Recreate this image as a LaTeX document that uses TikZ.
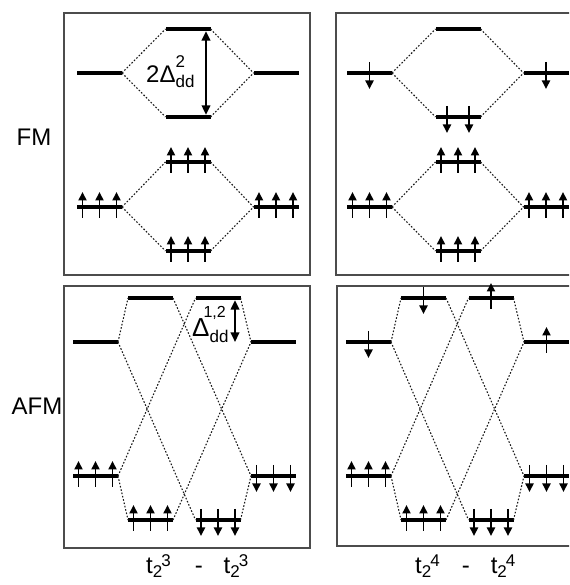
\documentclass[tikz,border=0pt]{standalone}
\usepackage{fontspec}
\setmainfont{Liberation Sans}
\usetikzlibrary{arrows.meta}

\tikzset{
  lvl/.style={rectangle, fill=black, minimum width=45pt, minimum height=4.4pt, inner sep=0pt, outer sep=0pt},
  panel/.style={draw=black!70, line width=1.2pt},
  link/.style={draw=black!90, line width=1.1pt, dash pattern=on 1.6pt off 1.8pt},
  spin/.style={line width=1.9pt, -{Triangle[width=8pt,length=8.5pt]}},
  splitarrow/.style={line width=2.2pt, {Triangle[width=8.5pt,length=9.5pt]}-{Triangle[width=8.5pt,length=9.5pt]}},
  lab/.style={font=\fontsize{24}{24}\selectfont, inner sep=0pt},
}

% spin arrows on a level node: #1 node, #2 horizontal offset
\newcommand\spup[2]{\draw[spin] ([xshift=#2,yshift=-11pt]#1.center) -- ++(0,26pt);}
\newcommand\spdn[2]{\draw[spin] ([xshift=#2,yshift=11pt]#1.center) -- ++(0,-27pt);}
\newcommand\triup[1]{\spup{#1}{-17pt}\spup{#1}{0pt}\spup{#1}{17pt}}
\newcommand\tridn[1]{\spdn{#1}{-17pt}\spdn{#1}{0pt}\spdn{#1}{17pt}}
\newcommand\scr[1]{{\fontsize{17}{17}\selectfont #1}}
% t_2^n with the exponent set just after the index
\newcommand\ttwo[1]{t\raisebox{-4pt}{\scr{2}}\kern-1pt\raisebox{7pt}{\scr{#1}}}

\begin{document}
\begin{tikzpicture}[x=1pt,y=1pt]
\useasboundingbox (0,0) rectangle (569,585);
\clip (0,0) rectangle (569,585);

% ---------- panel frames ----------
\draw[panel] (64,572) rectangle (310,310);
\draw[panel] (336,572) rectangle (600,310);
\draw[panel] (64,299) rectangle (310,37);
\draw[panel] (337,299) rectangle (600,39);

% ---------- row labels ----------
\node[lab] (fm)  at (34,447.5) {FM};
\node[lab] (afm) at (37,178.5) {AFM};

% ---------- FM, t2^3 - t2^3 ----------
\node[lvl] (a1l) at (99.5,512) {};
\node[lvl] (a1t) at (188,556) {};
\node[lvl] (a1b) at (188,468) {};
\node[lvl] (a1r) at (276,512) {};
\node[lvl] (a2l) at (99.5,378) {};
\node[lvl] (a2t) at (188,423) {};
\node[lvl] (a2b) at (188,334) {};
\node[lvl] (a2r) at (276,378) {};
\foreach \p in {a1,a2}{
  \draw[link] (\p l.east) -- (\p t.west);
  \draw[link] (\p l.east) -- (\p b.west);
  \draw[link] (\p t.east) -- (\p r.west);
  \draw[link] (\p b.east) -- (\p r.west);
}
\triup{a2l}\triup{a2t}\triup{a2b}\triup{a2r}
\draw[splitarrow] ([xshift=18pt]a1t.south) -- ([xshift=18pt]a1b.north);
\node[anchor=base west, inner sep=0pt] (gapfm) at (146,502)
  {\fontsize{24}{24}\selectfont 2Δ\rlap{\raisebox{-5pt}{\scr{dd}}}\raisebox{15pt}{\scr{2}}};

% ---------- FM, t2^4 - t2^4 ----------
\node[lvl] (b1l) at (369.5,512) {};
\node[lvl] (b1t) at (458,556) {};
\node[lvl] (b1b) at (458,468) {};
\node[lvl] (b1r) at (546,512) {};
\node[lvl] (b2l) at (369.5,378) {};
\node[lvl] (b2t) at (458,423) {};
\node[lvl] (b2b) at (458,334) {};
\node[lvl] (b2r) at (546,378) {};
\foreach \p in {b1,b2}{
  \draw[link] (\p l.east) -- (\p t.west);
  \draw[link] (\p l.east) -- (\p b.west);
  \draw[link] (\p t.east) -- (\p r.west);
  \draw[link] (\p b.east) -- (\p r.west);
}
\spdn{b1l}{0pt}\spdn{b1r}{0pt}\spdn{b1b}{-11pt}\spdn{b1b}{11pt}
\triup{b2l}\triup{b2t}\triup{b2b}\triup{b2r}

% ---------- AFM panels (prefix / horizontal shift) ----------
\foreach \p/\dx in {c/0, d/273}{
  \node[lvl] (\p l)  at (95.5+\dx,243) {};
  \node[lvl] (\p ll) at (95.5+\dx,109) {};
  \node[lvl] (\p at) at (150.5+\dx,287) {};
  \node[lvl] (\p bt) at (218+\dx,287) {};
  \node[lvl] (\p al) at (150.5+\dx,65) {};
  \node[lvl] (\p bl) at (218+\dx,65) {};
  \node[lvl] (\p r)  at (273.5+\dx,243) {};
  \node[lvl] (\p rl) at (273.5+\dx,109) {};
  \draw[link] (\p l.east) -- (\p at.west);
  \draw[link] (\p l.east) -- (\p bl.west);
  \draw[link] (\p ll.east) -- (\p al.west);
  \draw[link] (\p ll.east) -- (\p bt.west);
  \draw[link] (\p at.east) -- (\p rl.west);
  \draw[link] (\p bt.east) -- (\p r.west);
  \draw[link] (\p al.east) -- (\p r.west);
  \draw[link] (\p bl.east) -- (\p rl.west);
  \triup{\p ll}\triup{\p al}\tridn{\p bl}\tridn{\p rl}
}
\spdn{dl}{0pt}\spdn{dat}{0pt}\spup{dbt}{0pt}\spup{dr}{0pt}

\draw[splitarrow] ([xshift=17pt]cbt.south) -- ([xshift=17pt]cbt.south |- cr.center);
\node[anchor=base west, inner sep=0pt] (gapafm) at (192,248)
  {\fontsize{26}{26}\selectfont Δ\rlap{\raisebox{-6pt}{\scr{dd}}}\kern-6pt\raisebox{19pt}{{\fontsize{16}{16}\selectfont 1,2}}};

% ---------- configuration labels ----------
\node[anchor=base west, inner sep=0pt] (cfg3) at (146,12)
  {\fontsize{24}{24}\selectfont \ttwo{3}\hspace{24pt}-\hspace{21pt}\ttwo{3}};
\node[anchor=base west, inner sep=0pt] (cfg4) at (415,12)
  {\fontsize{24}{24}\selectfont \ttwo{4}\hspace{22pt}-\hspace{21pt}\ttwo{4}};
\end{tikzpicture}
\end{document}
